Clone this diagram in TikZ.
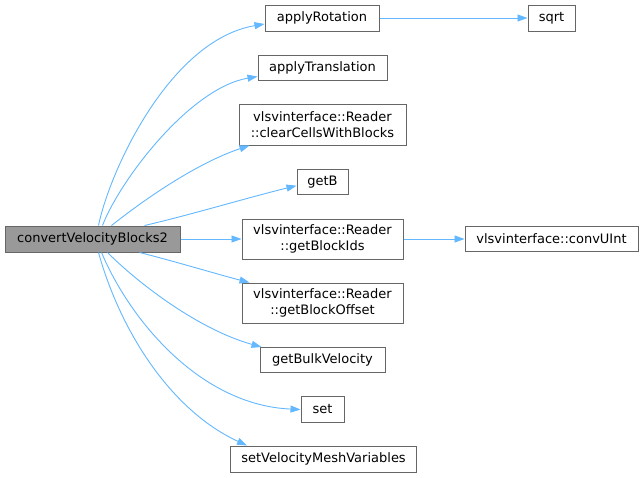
\documentclass[tikz,border=0pt]{standalone}
\usepackage{fontspec}
\setmainfont{DejaVu Sans}
\usetikzlibrary{arrows.meta}
\definecolor{edgeblue}{HTML}{63B8FF}
\definecolor{boxgray}{HTML}{666666}
\definecolor{mainfill}{HTML}{999999}
\begin{document}
\begin{tikzpicture}[x=1pt,y=-1pt,
  fn/.style={draw=boxgray,line width=1pt,fill=white,inner sep=0pt,align=center,
    font=\fontsize{13}{16}\selectfont,text=black},
  mainfn/.style={fn,fill=mainfill},
  call/.style={draw=edgeblue,line width=0.9pt,-{Triangle[length=10pt,width=7pt]}}]
\useasboundingbox (0,0) rectangle (644,477);
\fill[white] (0,0) rectangle (644,477);
\node[mainfn,minimum width=175pt,minimum height=26pt] (main) at (92.5,239) {convertVelocityBlocks2};
\node[fn,minimum width=114pt,minimum height=26pt] (rot) at (322,18) {applyRotation};
\node[fn,minimum width=129pt,minimum height=25pt] (tra) at (322.5,67.5) {applyTranslation};
\node[fn,minimum width=167pt,minimum height=41pt] (clr) at (322.5,124.5) {vlsvinterface::Reader\\::clearCellsWithBlocks};
\node[fn,minimum width=51pt,minimum height=25pt] (getb) at (322.5,181.7) {getB};
\node[fn,minimum width=161pt,minimum height=40pt] (ids) at (322.5,239) {vlsvinterface::Reader\\::getBlockIds};
\node[fn,minimum width=161pt,minimum height=40pt] (off) at (322.5,303) {vlsvinterface::Reader\\::getBlockOffset};
\node[fn,minimum width=125pt,minimum height=25pt] (bulk) at (322.5,360) {getBulkVelocity};
\node[fn,minimum width=43pt,minimum height=26pt] (set) at (322.5,409.5) {set};
\node[fn,minimum width=186pt,minimum height=26pt] (mesh) at (323.5,459) {setVelocityMeshVariables};
\node[fn,minimum width=47pt,minimum height=26pt] (sqrt) at (551.5,18) {sqrt};
\node[fn,minimum width=173pt,minimum height=25pt] (conv) at (551.5,239) {vlsvinterface::convUInt};

\draw[call] ([xshift=94pt]main.north west) .. controls (110,170) and (170,40) .. ([yshift=-6pt]rot.west);
\draw[call] ([xshift=98pt]main.north west) .. controls (120,180) and (190,88) .. ([yshift=-9pt]tra.west);
\draw[call] ([xshift=107pt]main.north west) .. controls (150,195) and (200,162) .. ([xshift=11pt]clr.south west);
\draw[call] ([xshift=140pt]main.north west) .. controls (190,215) and (250,197) .. ([yshift=-4pt]getb.west);
\draw[call] (main.east) -- (ids.west);
\draw[call] ([xshift=135pt]main.south west) .. controls (170,260) and (220,275) .. ([xshift=8pt]off.north west);
\draw[call] ([xshift=103pt]main.south west) .. controls (140,285) and (200,330) .. ([xshift=2pt]bulk.north west);
\draw[call] ([xshift=97pt]main.south west) .. controls (130,320) and (200,405) .. (set.west);
\draw[call] ([xshift=94pt]main.south west) .. controls (120,330) and (170,410) .. ([xshift=17pt]mesh.north west);
\draw[call] (rot.east) -- (sqrt.west);
\draw[call] (ids.east) -- (conv.west);
\end{tikzpicture}
\end{document}
